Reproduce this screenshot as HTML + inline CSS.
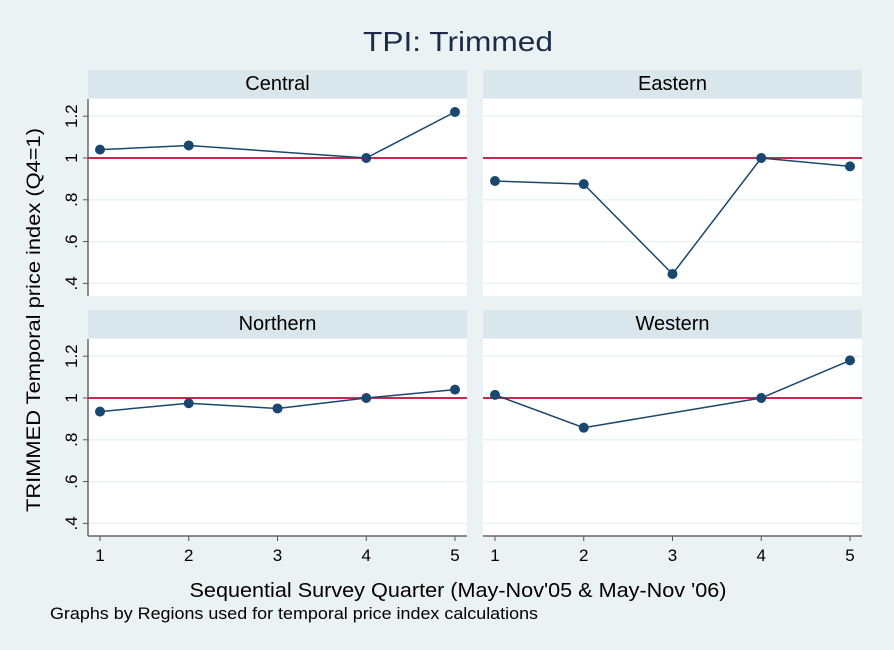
<!DOCTYPE html>
<html><head><meta charset="utf-8"><style>
body{margin:0;background:#eaf2f3;}
svg{display:block;font-family:"Liberation Sans",sans-serif;}
</style></head><body>
<svg id="c" width="894" height="650">
<rect width="894" height="650" fill="#eaf2f3"/>
<text x="458" y="51" font-size="28" text-anchor="middle" fill="#1e2a4a" textLength="190" lengthAdjust="spacingAndGlyphs">TPI: Trimmed</text>
<text transform="translate(40,320) rotate(-90)" font-size="19" text-anchor="middle" fill="#000" textLength="384" lengthAdjust="spacingAndGlyphs">TRIMMED Temporal price index (Q4=1)</text>
<text x="458" y="597" font-size="20" text-anchor="middle" fill="#000" textLength="537" lengthAdjust="spacingAndGlyphs">Sequential Survey Quarter (May-Nov'05 &amp; May-Nov '06)</text>
<text x="50" y="619" font-size="17" fill="#000" textLength="488" lengthAdjust="spacingAndGlyphs">Graphs by Regions used for temporal price index calculations</text>
</svg>
<script>
const regions=["Central","Eastern","Northern","Western"];
const quarters=[1,2,3,4,5];
const central=[1.04,1.06,null,1.0,1.22];
const eastern=[0.89,0.875,0.445,1.0,0.96];
const northern=[0.935,0.975,0.95,1.0,1.04];
const western=[1.015,0.858,null,1.0,1.18];
const yTicks=[0.4,0.6,0.8,1,1.2];
const yTickLabels=[".4",".6",".8","1","1.2"];
const refValue=1;
const series=[central,eastern,northern,western];
const NS="http://www.w3.org/2000/svg";
const svg=document.getElementById('c');
function mk(tag,attrs,parent){const e=document.createElementNS(NS,tag);for(const k in attrs)e.setAttribute(k,attrs[k]);(parent||svg).appendChild(e);return e;}
const panels=[{x0:88,top:70},{x0:483,top:70},{x0:88,top:310},{x0:483,top:310}];
series.forEach((vals,i)=>{
  const p=panels[i];const w=379;
  const plotTop=p.top+29, plotBot=p.top+226;
  const xs=q=>p.x0+12+(q-1)*88.75;
  const ys=v=>p.top+88-(v-1)*209;
  const g=mk('g',{});
  
  
  const strip=mk('rect',{x:p.x0,y:p.top,width:w,height:28,fill:'#d9e6eb'},g);
  
  
  const st=mk('text',{x:p.x0+w/2,y:p.top+20,'font-size':20,'text-anchor':'middle',fill:'#000'},g);st.textContent=regions[i];
  
  
  const pr=mk('rect',{x:p.x0,y:plotTop,width:w,height:plotBot-plotTop,fill:'#fff'},g);
  
  
  yTicks.forEach((t,k)=>{
    const gl=mk('line',{x1:p.x0,x2:p.x0+w,y1:ys(t),y2:ys(t),stroke:'#eaf2f3','stroke-width':1.5},g);
    
    
    if(i%2===0){
      mk('line',{x1:p.x0-5,x2:p.x0,y1:ys(t),y2:ys(t),stroke:'#555','stroke-width':1},g);
      const tl=mk('text',{transform:`translate(${p.x0-11},${ys(t)}) rotate(-90)`,'font-size':17,'text-anchor':'middle',fill:'#000'},g);
      tl.textContent=yTickLabels[k];
      
      
    }
  });
  if(i%2===0){const ax=mk('line',{x1:p.x0,x2:p.x0,y1:plotTop,y2:plotBot,stroke:'#666','stroke-width':1.5},g);
    }
  if(i>=2){
    const ax=mk('line',{x1:p.x0,x2:p.x0+w,y1:plotBot,y2:plotBot,stroke:'#666','stroke-width':1.5},g);
    
    quarters.forEach(q=>{
      mk('line',{x1:xs(q),x2:xs(q),y1:plotBot,y2:plotBot+5,stroke:'#555'},g);
      const tl=mk('text',{x:xs(q),y:plotBot+25,'font-size':17,'text-anchor':'middle',fill:'#000'},g);tl.textContent=q;
      
      
    });
  }
  const rl=mk('line',{x1:p.x0,x2:p.x0+w,y1:ys(refValue),y2:ys(refValue),stroke:'#c8284a','stroke-width':2},g);
  
  
  const pts=quarters.map((q,k)=>vals[k]==null?null:[xs(q),ys(vals[k])]).filter(a=>a);
  const ln=mk('polyline',{points:pts.map(a=>a.join(',')).join(' '),fill:'none',stroke:'#1a476f','stroke-width':1.5},g);
  
  
  pts.forEach(a=>{
    const c=mk('circle',{cx:a[0],cy:a[1],r:5,fill:'#1a476f'},g);
    
    
  });
});
</script>
</body></html>
